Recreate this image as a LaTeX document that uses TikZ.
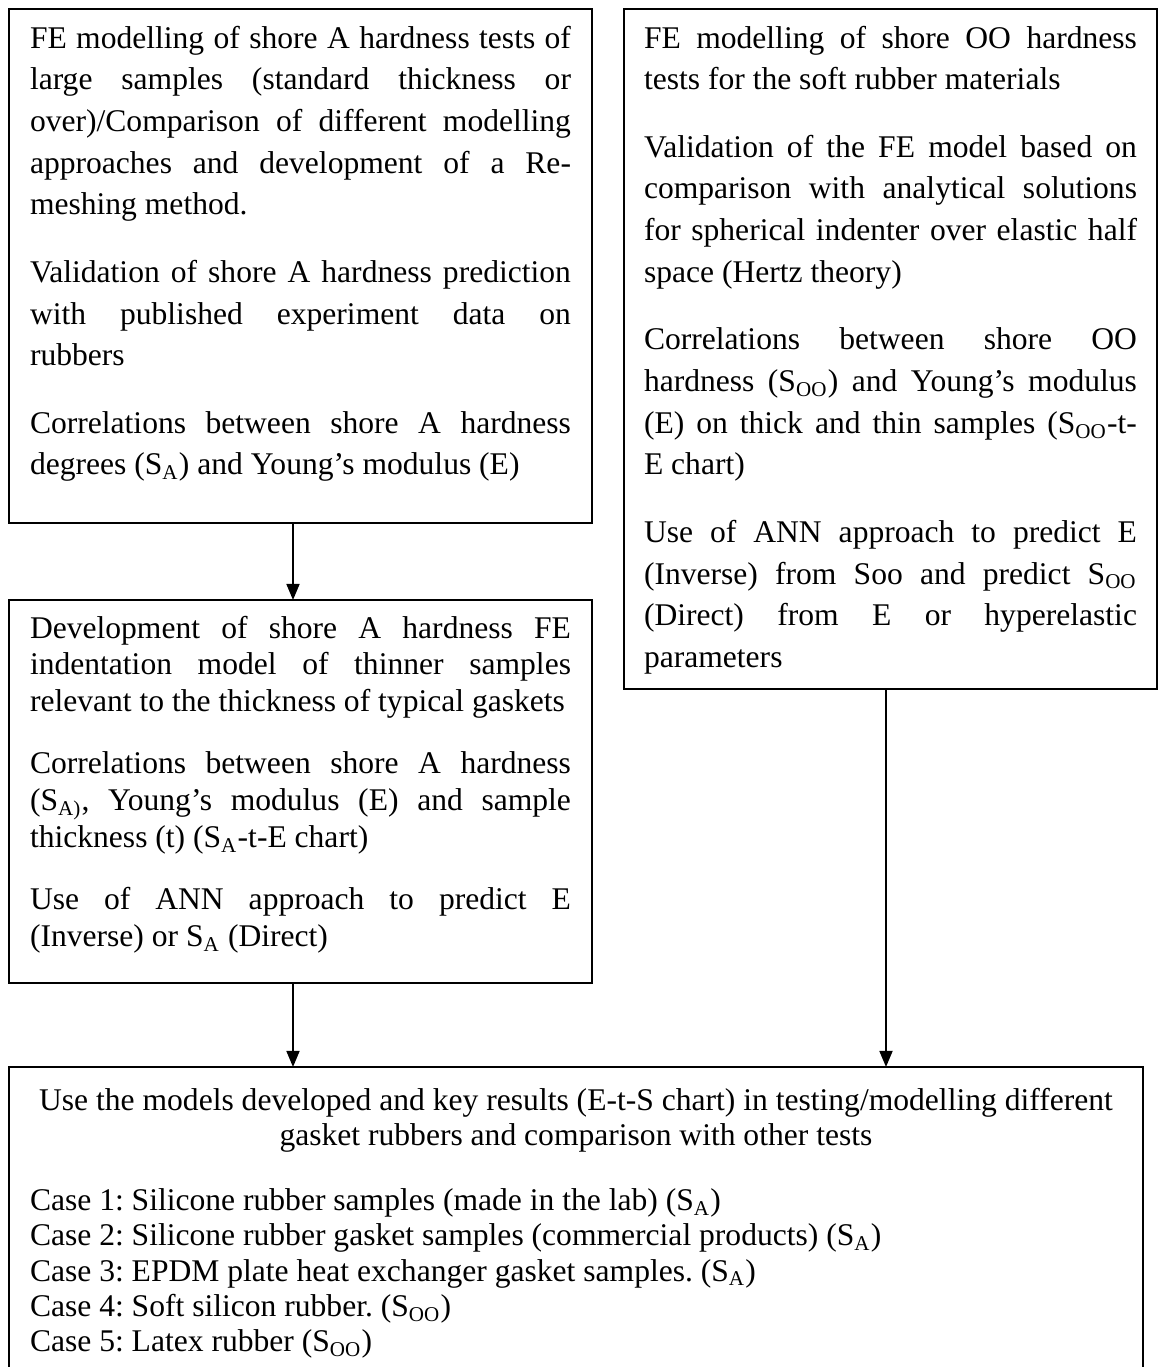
\documentclass[tikz,border=0pt]{standalone}
\usepackage{fontspec}
\setmainfont{Liberation Serif}
\usetikzlibrary{arrows.meta}

%% one drawing unit = 0.38pt
\newdimen\px
\px=0.38pt

\newcommand{\SA}{S\textsubscript{A}}
\newcommand{\SOO}{S\textsubscript{OO}}
%% paragraph set-up inside the boxes (#1 = baseline skip)
\newcommand{\boxtext}[1]{\fontsize{12pt}{#1}\selectfont\frenchspacing
  \tolerance=10000 \hbadness=10000 \setlength\parskip{9.8pt}}

\tikzset{
  stage/.style={draw, line width=0.45pt, anchor=north west,
    inner xsep=7.98pt, inner ysep=0pt, outer sep=0pt},
  flow/.style={line width=0.8pt, -{Triangle[length=6.1pt, width=4.9pt]}},
}

\begin{document}
\begin{tikzpicture}[x=0.38pt, y=-0.38pt]
\useasboundingbox (0,0) rectangle (1159,1367);
\clip (0,0) rectangle (1159,1367);

%% shore A, thick samples
\node[stage] (large) at (9,9) {\parbox[t][514\px][t]{541\px}{\boxtext{15.85pt}
\rule{0pt}{39\px}FE modelling of shore A hardness tests of\linebreak
large samples (standard thickness or\linebreak
over)/Comparison of different modelling\linebreak
approaches and development of a Re-\linebreak
meshing method.

Validation of shore A hardness prediction\linebreak
with published experiment data on\linebreak
rubbers

Correlations between shore A hardness\linebreak
degrees (\SA) and Young's modulus (E)}};

%% shore OO, soft rubbers
\node[stage, inner xsep=7.6pt] (soft) at (624,9) {\parbox[t][680\px][t]{493\px}{\boxtext{15.85pt}
\rule{0pt}{39\px}FE modelling of shore OO hardness\linebreak
tests for the soft rubber materials

Validation of the FE model based on\linebreak
comparison with analytical solutions\linebreak
for spherical indenter over elastic half\linebreak
space (Hertz theory)

Correlations between shore OO\linebreak
hardness (\SOO) and Young's modulus\linebreak
(E) on thick and thin samples (\SOO-t-\linebreak
E chart)

Use of ANN approach to predict E\linebreak
(Inverse) from Soo and predict \SOO\linebreak
(Direct) from E or hyperelastic\linebreak
parameters}};

%% shore A, thin samples
\node[stage] (thin) at (9,600) {\parbox[t][383\px][t]{541\px}{\boxtext{13.95pt}
\rule{0pt}{38\px}Development of shore A hardness FE\linebreak
indentation model of thinner samples\linebreak
relevant to the thickness of typical gaskets

Correlations between shore A hardness\linebreak
(S\textsubscript{A)}, Young's modulus (E) and sample\linebreak
thickness (t) (\SA-t-E chart)

Use of ANN approach to predict E\linebreak
(Inverse) or \SA{} (Direct)}};

%% applications
\node[stage] (cases) at (9,1067) {\parbox[t][420\px][t]{1092\px}{%
\fontsize{12pt}{13.4pt}\selectfont\frenchspacing
{\centering\rule{0pt}{43\px}Use the models developed and key results (E-t-S chart) in testing/modelling different\\
gasket rubbers and comparison with other tests\par}
\vspace{11.4pt}
Case 1: Silicone rubber samples (made in the lab) (\SA)\\
Case 2: Silicone rubber gasket samples (commercial products) (\SA)\\
Case 3: EPDM plate heat exchanger gasket samples. (\SA)\\
Case 4: Soft silicon rubber. (\SOO)\\
Case 5: Latex rubber (\SOO)}};

%% arrows
\draw[flow] ([xshift=-2.85pt]large.south) -- ([xshift=-2.85pt]thin.north);
\coordinate (a) at ([xshift=-2.85pt]thin.south);
\coordinate (b) at ([xshift=-1.71pt]soft.south);
\draw[flow] (a) -- (a |- cases.north);
\draw[flow] (b) -- (b |- cases.north);

\end{tikzpicture}
\end{document}
